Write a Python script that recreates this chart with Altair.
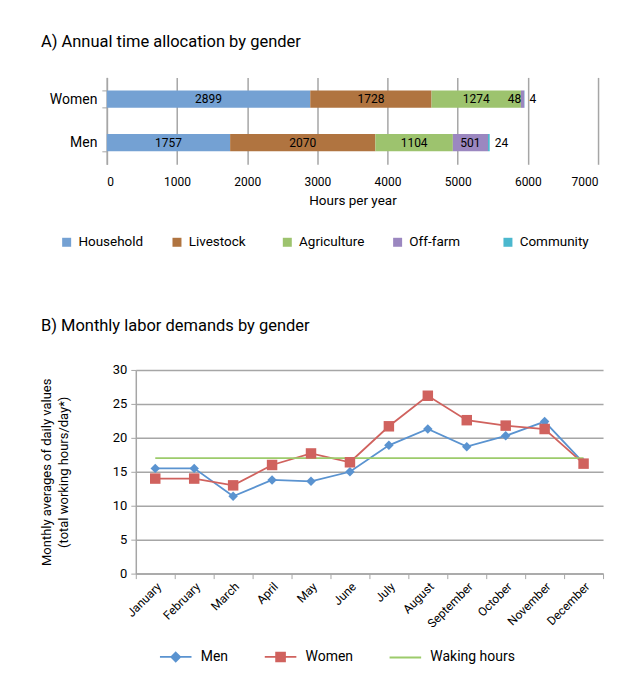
import altair as alt
import pandas as pd

# ---------------- data ----------------
genders = ["Women", "Men"]
activities = ["Household", "Livestock", "Agriculture", "Off-farm", "Community"]
women_hours = [2899, 1728, 1274, 48, 4]
men_hours = [1757, 2070, 1104, 501, 24]
activity_colors = ["#74A1D3", "#B07440", "#9DC36E", "#9B87C0", "#4BB8CE"]
x_ticks = [0, 1000, 2000, 3000, 4000, 5000, 6000, 7000]

months = ["January", "February", "March", "April", "May", "June", "July",
          "August", "September", "October", "November", "December"]
men_daily = [15.5, 15.5, 11.4, 13.8, 13.6, 15.0, 18.9, 21.3, 18.7, 20.3, 22.4, 16.3]
women_daily = [14.0, 14.0, 13.0, 16.0, 17.7, 16.4, 21.7, 26.2, 22.6, 21.8, 21.3, 16.2]
waking_hours = [17, 17, 17, 17, 17, 17, 17, 17, 17, 17, 17, 17]
series = ["Men", "Women", "Waking hours"]
series_colors = ["#5A93D0", "#D0625E", "#9CCB6B"]
legend_paths = [
    "M-1,0H1M0,-0.28L0.28,0L0,0.28L-0.28,0Z",
    "M-1,0H1M-0.28,-0.28H0.28V0.28H-0.28Z",
    "M-1,0H1",
]
y_ticks = [0, 5, 10, 15, 20, 25, 30]

FONT = "Roboto"
GRID = "#A6A6A6"

# ---------------- chart A ----------------
rows = []
for g, vals in zip(genders, [women_hours, men_hours]):
    for i, (a, v) in enumerate(zip(activities, vals)):
        rows.append({"gender": g, "activity": a, "idx": i, "hours": v})
bars_df = pd.DataFrame(rows)

base_a = alt.Chart(bars_df).transform_stack(
    stack="hours", groupby=["gender"], as_=["x0", "x1"], sort=[alt.SortField("idx")]
).transform_calculate(mid="(datum.x0 + datum.x1) / 2")

y_a = alt.Y("gender:N", sort=genders,
            scale=alt.Scale(paddingInner=0.6, paddingOuter=0.3),
            axis=alt.Axis(title=None, labelFontSize=14, labelPadding=5, offset=29,
                          domainColor=GRID, tickColor=GRID, tickBand="extent",
                          tickSize=5, domainWidth=1.5))
x_axis_a = alt.Axis(values=x_ticks, format="d", title="Hours per year", grid=True,
                    gridColor=GRID, gridWidth=1.5, domain=False, ticks=False,
                    labelFontSize=12, labelPadding=12, titleFontSize=13.5,
                    titleFontWeight="normal", titlePadding=6, titleX=217)
x_scale_a = alt.Scale(domain=[0, 7000], nice=False, range=[-29, 463])

legend_a = alt.Legend(orient="none", legendX=-76, legendY=158, direction="horizontal",
                      columns=5, gridAlign="all", columnPadding=22.5, symbolType="square",
                      symbolSize=81, symbolStrokeWidth=0, labelFontSize=13.5, title=None,
                      labelOffset=5)

bars = base_a.mark_bar().encode(
    x=alt.X("x0:Q", scale=x_scale_a, axis=x_axis_a),
    x2="x1:Q",
    y=y_a,
    color=alt.Color("activity:N", scale=alt.Scale(domain=activities, range=activity_colors),
                    legend=legend_a),
)
txt_mid = base_a.transform_filter("datum.hours >= 100").mark_text(
    fontSize=12, color="black").encode(
    x=alt.X("mid:Q", scale=x_scale_a, axis=x_axis_a), y=y_a,
    text=alt.Text("hours:Q", format="d"))
txt_in = base_a.transform_filter("datum.hours < 100 && datum.activity != 'Community'").mark_text(
    fontSize=12, color="black", align="right", dx=-3).encode(
    x=alt.X("x1:Q", scale=x_scale_a, axis=x_axis_a), y=y_a,
    text=alt.Text("hours:Q", format="d"))
txt_out = base_a.transform_filter("datum.activity == 'Community'").mark_text(
    fontSize=12, color="black", align="left", dx=5).encode(
    x=alt.X("x1:Q", scale=x_scale_a, axis=x_axis_a), y=y_a,
    text=alt.Text("hours:Q", format="d"))

chart_a = alt.layer(bars, txt_mid, txt_in, txt_out).properties(
    width=463, height=87,
    title=alt.TitleParams("A) Annual time allocation by gender", anchor="start", frame="group",
                          dx=-95, fontSize=16.5, fontWeight="normal", offset=20),
)

# ---------------- chart B ----------------
rows_b = []
for s, vals in zip(series, [men_daily, women_daily, waking_hours]):
    for i, (m, v) in enumerate(zip(months, vals)):
        rows_b.append({"series": s, "month": m, "idx": i, "value": v})
line_df = pd.DataFrame(rows_b)
base_b = alt.Chart(line_df)

x_b = alt.X("month:N", sort=months,
            scale=alt.Scale(type="band", paddingInner=0, paddingOuter=0),
            axis=alt.Axis(title=None, labelAngle=-45, labelFontSize=12, tickBand="extent",
                          tickSize=5, tickColor=GRID, domainColor=GRID, domainWidth=1.5,
                          labelPadding=2, grid=False))
y_b = alt.Y("value:Q", scale=alt.Scale(domain=[0, 30]),
            axis=alt.Axis(values=y_ticks,
                          title=["Monthly averages of daily values", "(total working hours/day*)"],
                          titleFontSize=13, titleFontWeight="normal", titlePadding=42,
                          titleLineHeight=17, labelFontSize=13, labelPadding=4,
                          gridColor=GRID, gridWidth=1.5, domainColor=GRID, domainWidth=1.5,
                          tickColor=GRID, tickSize=5))


def pick(values):
    expr = "'" + values[-1] + "'"
    for s, v in reversed(list(zip(series[:-1], values[:-1]))):
        expr = "datum.value === '" + s + "' ? '" + v + "' : " + expr
    return expr


color_scale_b = alt.Scale(domain=series, range=series_colors)
legend_b = alt.Legend(
    orient="bottom", offset=10, direction="horizontal",
    title="\u200b", titleOrient="left", titlePadding=23, titleFontSize=1,
    symbolSize=1000, symbolStrokeWidth=1.8, labelFontSize=14, labelOffset=8,
    columnPadding=32, symbolOpacity=1,
    symbolType=alt.ExprRef(pick(legend_paths)),
    symbolStrokeColor=alt.ExprRef(pick(series_colors)),
)

legend_layer = base_b.mark_point(filled=True, size=0, opacity=1).encode(
    x=x_b, y=y_b,
    color=alt.Color("series:N", scale=color_scale_b, legend=legend_b),
)
lines = base_b.mark_line(strokeWidth=1.8).encode(
    x=x_b, y=y_b,
    color=alt.Color("series:N", scale=color_scale_b, legend=None),
)
men_pts = base_b.transform_filter("datum.series == 'Men'").mark_point(
    shape="diamond", filled=True, size=90, opacity=1, color=series_colors[0]).encode(x=x_b, y=y_b)
women_pts = base_b.transform_filter("datum.series == 'Women'").mark_point(
    shape="square", filled=True, size=110, opacity=1, color=series_colors[1]).encode(x=x_b, y=y_b)

chart_b = alt.layer(legend_layer, lines, men_pts, women_pts).properties(
    width=468, height=204,
    title=alt.TitleParams("B) Monthly labor demands by gender", anchor="start", frame="group",
                          dx=-95, fontSize=16.5, fontWeight="normal", offset=30),
)

chart = alt.vconcat(chart_a, chart_b, spacing=68).resolve_scale(
    color="independent"
).resolve_legend(
    color="independent"
).properties(
    padding={"left": 32, "top": 25, "right": 0, "bottom": 0}
).configure(font=FONT).configure_view(stroke=None).configure_axis(
    labelColor="black", titleColor="black"
).configure_legend(labelColor="black").configure_title(color="black")

chart.save("out.html", embed_options={"renderer": "svg", "actions": False})
